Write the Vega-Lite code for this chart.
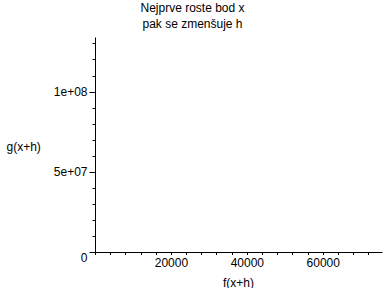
{
  "$schema": "https://vega.github.io/schema/vega-lite/v6.json",
  "width": 287,
  "height": 215,
  "autosize": "none",
  "padding": {"left": 95, "top": 37, "right": 6, "bottom": 36},
  "background": "white",
  "title": {
    "text": ["Nejprve roste bod x", "pak se zmenšuje h"],
    "font": "Liberation Sans",
    "fontSize": 12,
    "fontWeight": "normal",
    "lineHeight": 16,
    "color": "black",
    "anchor": "middle",
    "frame": "group",
    "dx": -46,
    "offset": 6
  },
  "data": {"values": []},
  "mark": {"type": "line", "color": "black"},
  "encoding": {
    "x": {
      "field": "fx",
      "type": "quantitative",
      "scale": {"domain": [0, 75600], "nice": false, "zero": false},
      "axis": {
        "values": [0, 4000, 8000, 12000, 16000, 20000, 24000, 28000, 32000, 36000, 40000, 44000, 48000, 52000, 56000, 60000, 64000, 68000, 72000],
        "labelExpr": "datum.value % 20000 == 0 && datum.value > 0 ? format(datum.value, 'd') : ''",
        "tickSize": 2.5,
        "labelPadding": 3,
        "labelFlush": false,
        "labelOverlap": false,
        "grid": false,
        "domainColor": "black",
        "tickColor": "black",
        "labelColor": "black",
        "labelFont": "Liberation Sans",
        "labelFontSize": 12,
        "title": "f(x+h)",
        "titleFont": "Liberation Sans",
        "titleFontSize": 12,
        "titleFontWeight": "normal",
        "titleColor": "black",
        "titleX": 143,
        "titleY": 30,
        "titleBaseline": "middle",
        "titleAlign": "center"
      }
    },
    "y": {
      "field": "gx",
      "type": "quantitative",
      "scale": {"domain": [0, 134000000], "nice": false, "zero": false},
      "axis": {
        "values": [0, 10000000, 20000000, 30000000, 40000000, 50000000, 60000000, 70000000, 80000000, 90000000, 100000000, 110000000, 120000000, 130000000],
        "labelExpr": "datum.value == 100000000 ? '1e+08' : datum.value == 50000000 ? '5e+07' : datum.value == 0 ? '0' : ''",
        "tickSize": {"condition": {"test": "datum.value % 50000000 == 0", "value": 6}, "value": 3},
        "labelBaseline": {"condition": {"test": "datum.value == 0", "value": "top"}, "value": "middle"},
        "labelPadding": 2,
        "labelFlush": false,
        "labelOverlap": false,
        "grid": false,
        "domainColor": "black",
        "tickColor": "black",
        "labelColor": "black",
        "labelFont": "Liberation Sans",
        "labelFontSize": 12,
        "title": "g(x+h)",
        "titleFont": "Liberation Sans",
        "titleFontSize": 12,
        "titleFontWeight": "normal",
        "titleColor": "black",
        "titleAngle": 0,
        "titleX": -89,
        "titleY": 109,
        "titleAlign": "left",
        "titleBaseline": "middle"
      }
    }
  },
  "config": {"view": {"stroke": null}}
}
